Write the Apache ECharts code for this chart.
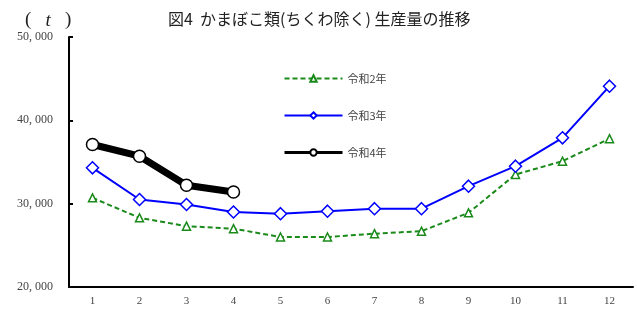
<!DOCTYPE html>
<html>
<head>
<meta charset="utf-8">
<script src="https://cdn.jsdelivr.net/npm/echarts@6/dist/echarts.min.js"></script>
<style>
  html, body { margin: 0; padding: 0; background: #fff; }
  #main { width: 637px; height: 309px; }
</style>
</head>
<body>
<div id="main"></div>
<script>
// 月 (1〜12)
const months = ['1', '2', '3', '4', '5', '6', '7', '8', '9', '10', '11', '12'];
// 生産量 (t)
const r2 = [30700, 28300, 27300, 27000, 26000, 26000, 26400, 26700, 28900, 33500, 35100, 37800];
const r3 = [34300, 30500, 29900, 29000, 28800, 29100, 29400, 29400, 32100, 34500, 37900, 44100];
const r4 = [37100, 35700, 32200, 31400];
const yMin = 20000, yMax = 50000, yStep = 10000;

const chart = echarts.init(document.getElementById('main'));

const serif = '"Liberation Serif", "DejaVu Serif", serif';
const jp = '"Noto Sans CJK JP", sans-serif';

const option = {
    animation: false,
    backgroundColor: '#fff',
    title: [
        {
            text: '図4  かまぼこ類(ちくわ除く) 生産量の推移',
            left: 163, top: 6,
            textStyle: { fontFamily: jp, fontSize: 16, fontWeight: 'normal', color: '#222' }
        },
        {
            text: '{p|(}   {t|t}   {p|)}',
            left: 20, top: 6,
            textStyle: {
                fontFamily: serif, fontSize: 19, fontWeight: 'normal', color: '#222',
                rich: {
                    p: { fontFamily: serif, fontSize: 19, fontWeight: 'normal', color: '#222' },
                    t: { fontFamily: serif, fontSize: 19, fontWeight: 'normal', fontStyle: 'italic', color: '#222' }
                }
            }
        }
    ],
    legend: {
        orient: 'vertical',
        left: 278, top: 68,
        itemWidth: 58, itemHeight: 8,
        itemGap: 26,
        textStyle: { fontFamily: jp, fontSize: 11, color: '#444' },
        data: [
            { name: '令和2年' },
            { name: '令和3年' },
            { name: '令和4年', lineStyle: { width: 3 } }
        ]
    },
    grid: { left: 69, right: 4, top: 37, bottom: 22 },
    xAxis: {
        type: 'category',
        data: months,
        boundaryGap: true,
        axisLine: { lineStyle: { color: '#000', width: 2 } },
        axisTick: { inside: true, length: 5, lineStyle: { color: '#000', width: 2 } },
        axisLabel: { fontFamily: serif, fontSize: 11, color: '#444', margin: 9 }
    },
    yAxis: {
        type: 'value',
        min: yMin, max: yMax, interval: yStep,
        axisLine: { show: true, lineStyle: { color: '#000', width: 2 } },
        axisTick: { show: true, inside: true, length: 4, lineStyle: { color: '#000', width: 2 } },
        splitLine: { show: false },
        axisLabel: {
            fontFamily: serif, fontSize: 12, color: '#444', margin: 16,
            formatter: v => Math.floor(v / 1000) + ', 000'
        }
    },
    series: [
        {
            name: '令和2年',
            type: 'line',
            data: r2,
            symbol: 'triangle', symbolSize: 8,
            lineStyle: { color: '#1a8a1a', width: 2, type: [5, 3] },
            itemStyle: { color: '#fff', borderColor: '#1a8a1a', borderWidth: 1.5 },
            z: 2
        },
        {
            name: '令和3年',
            type: 'line',
            data: r3,
            symbol: 'diamond', symbolSize: 12,
            lineStyle: { color: '#0000ff', width: 2 },
            itemStyle: { color: '#fff', borderColor: '#0000ff', borderWidth: 1.5 },
            z: 3
        },
        {
            name: '令和4年',
            type: 'line',
            data: r4,
            symbol: 'circle', symbolSize: 12,
            lineStyle: { color: '#000', width: 7 },
            itemStyle: { color: '#fff', borderColor: '#000', borderWidth: 1.5 },
            z: 4
        }
    ]
};

chart.setOption(option);
</script>
</body>
</html>
